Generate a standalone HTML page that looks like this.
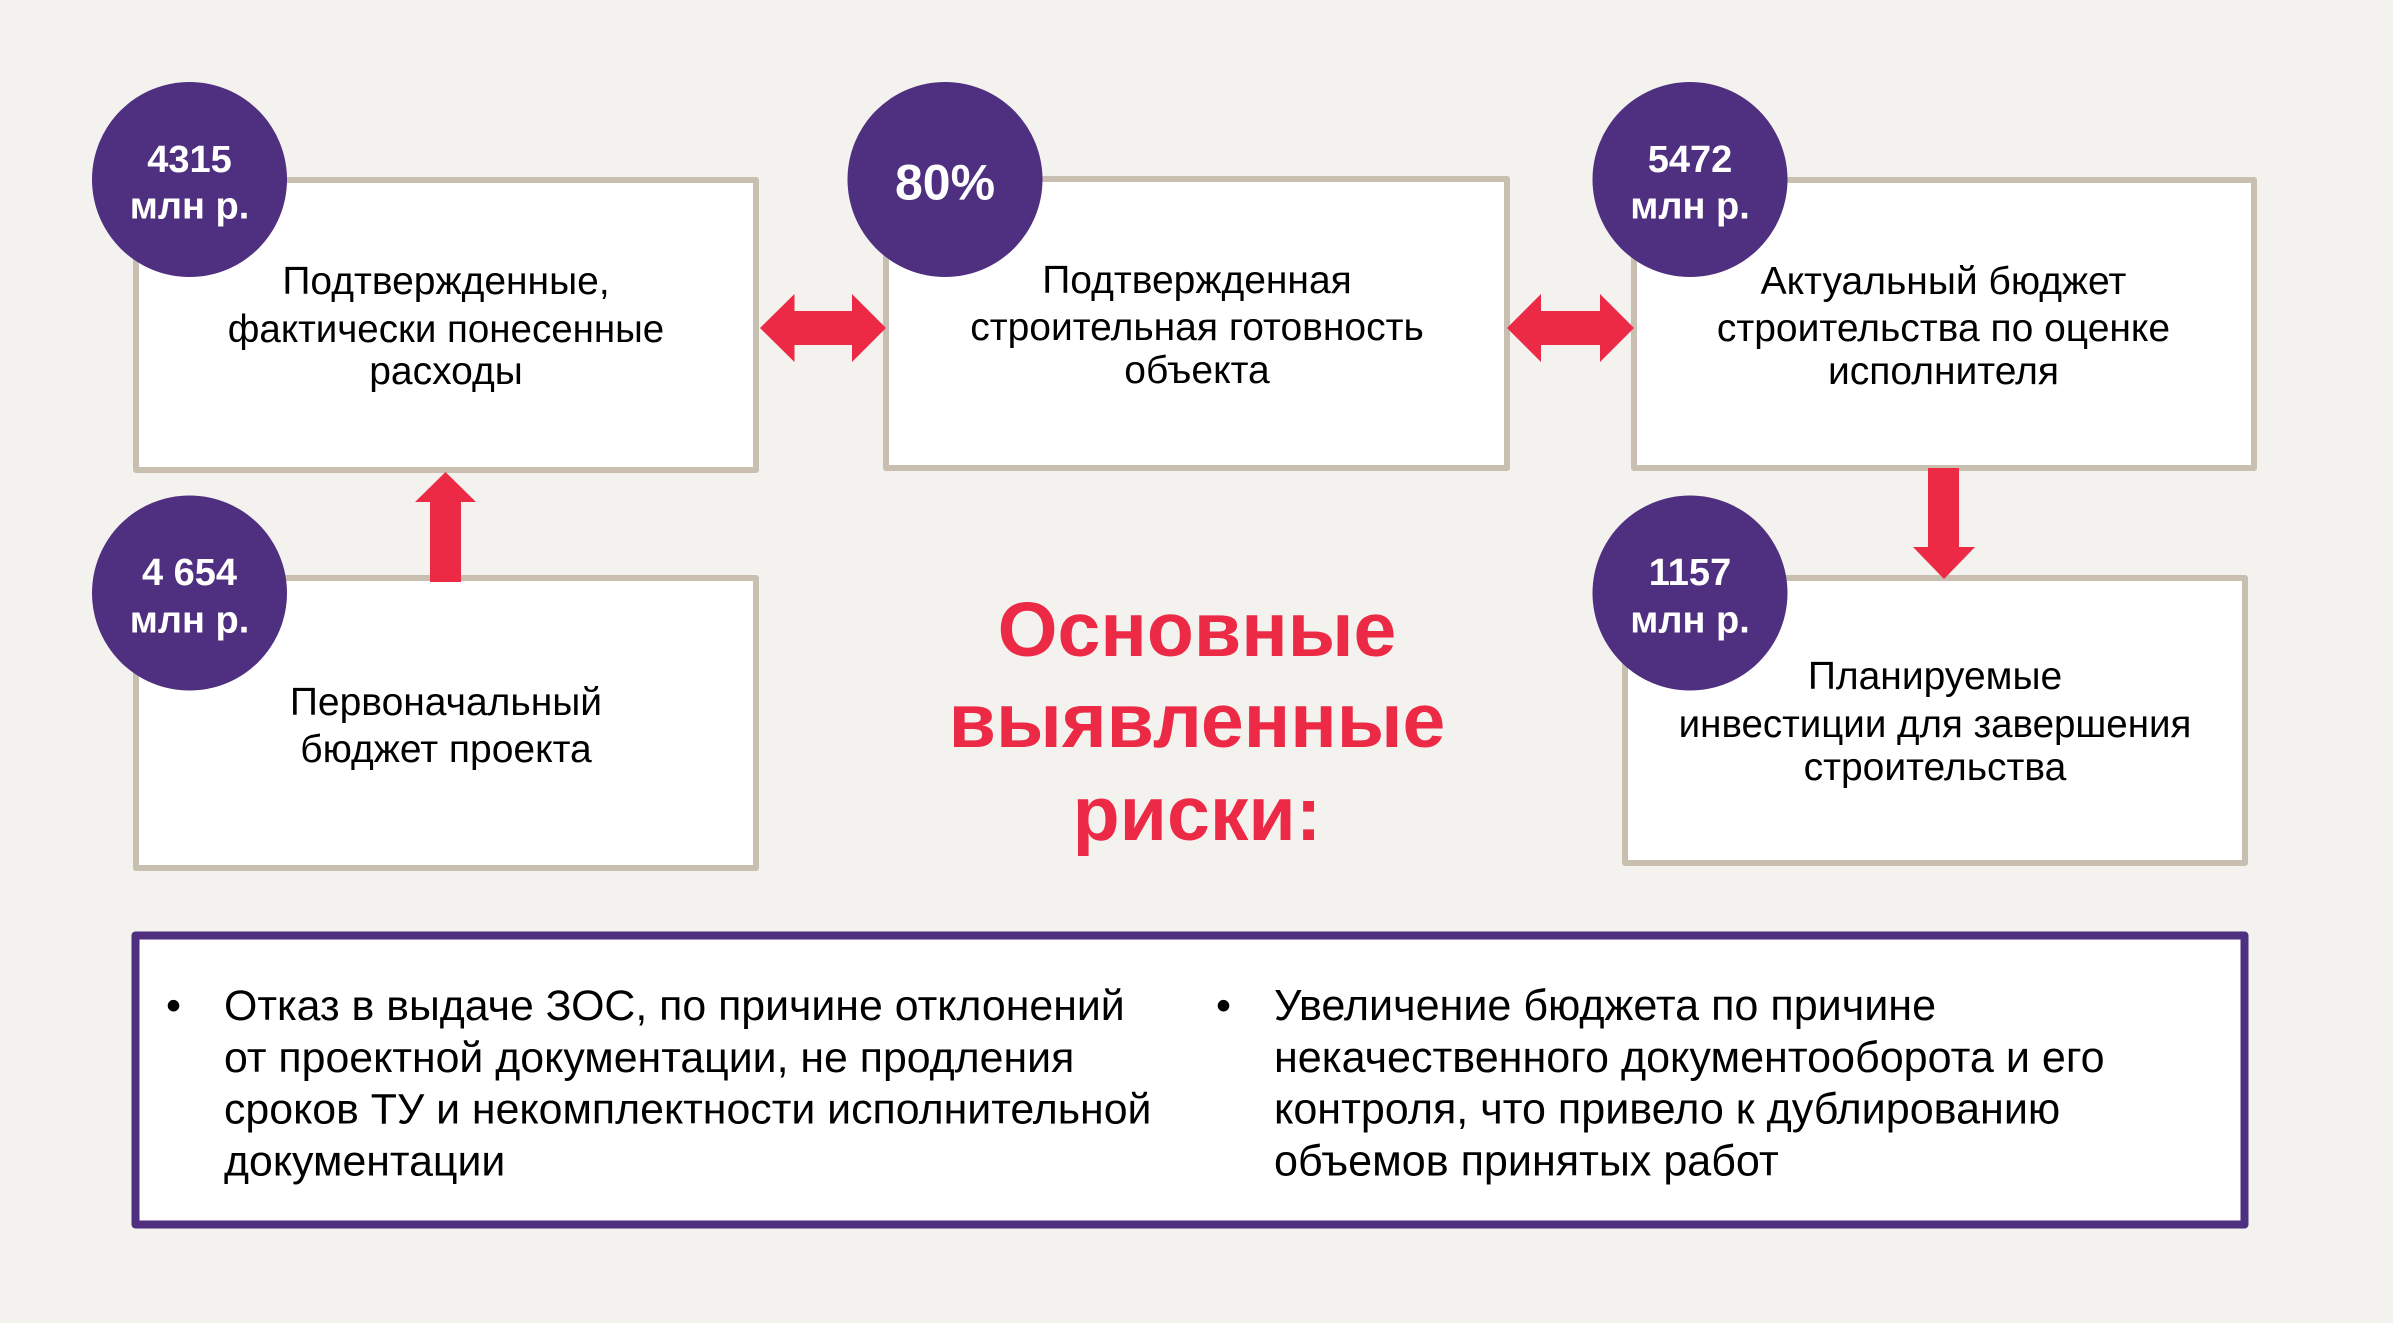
<!DOCTYPE html>
<html lang="ru"><head><meta charset="utf-8"><title>Основные выявленные риски</title>
<style>
html,body{margin:0;padding:0;background:#fff;width:2393px;height:1329px;overflow:hidden}
svg{display:block}
text{font-family:"Liberation Sans",sans-serif}
.t{font-size:39px;fill:#000;text-anchor:middle}
.n{font-size:38.5px}
.b{font-size:38px;font-weight:bold;fill:#fff;text-anchor:middle}
.h{font-size:77px;font-weight:bold;fill:#ec2a45;text-anchor:middle}
.l{font-size:42.85px;fill:#000}
.r{font-size:43.1px}
</style></head><body>
<svg xmlns="http://www.w3.org/2000/svg" width="2393" height="1329" viewBox="0 0 2393 1329">
<rect x="0" y="0" width="2393" height="1323" fill="#f3f2ee"/>
<g fill="#fff" stroke="#c9bfb0" stroke-width="6" stroke-linejoin="round">
<rect x="136" y="180" width="620" height="290"/>
<rect x="886" y="179" width="621" height="289"/>
<rect x="1634" y="180" width="620" height="288"/>
<rect x="136" y="578" width="620" height="290"/>
<rect x="1625" y="578" width="620" height="285"/>
</g>
<rect x="135.500" y="935.500" width="2109" height="289" fill="#fff" stroke="#4f2f7f" stroke-width="8" stroke-linejoin="round"/>
<g fill="#ec2a45">
<polygon points="760,328 794.500,294 794.500,311 852,311 852,294 886,328 852,362 852,345 794.500,345 794.500,362"/>
<polygon points="1507,328 1541,294 1541,311 1600,311 1600,294 1634,328 1600,362 1600,345 1541,345 1541,362"/>
<polygon points="445.500,472 476,502 461,502 461,582 430,582 430,502 415,502"/>
<polygon points="1944,579 1975,547 1959,547 1959,468 1928,468 1928,547 1913,547"/>
</g>
<g fill="#4f2f7f">
<ellipse cx="189.500" cy="179.500" rx="97.500" ry="97.500"/>
<ellipse cx="945" cy="179.500" rx="97.500" ry="97.500"/>
<ellipse cx="1690" cy="179.500" rx="97.500" ry="97.500"/>
<ellipse cx="189.500" cy="593" rx="97.500" ry="97.500"/>
<ellipse cx="1690" cy="593" rx="97.500" ry="97.500"/>
</g>
<text class="b" x="189.500" y="172">4315</text>
<text class="b" x="189.500" y="218.500">млн р.</text>
<text class="b" x="945" y="199.500" style="font-size:50px">80%</text>
<text class="b" x="1690" y="172">5472</text>
<text class="b" x="1690" y="218.500">млн р.</text>
<text class="b" x="189.500" y="585">4 654</text>
<text class="b" x="189.500" y="632.500">млн р.</text>
<text class="b" x="1690" y="585">1157</text>
<text class="b" x="1690" y="632.500">млн р.</text>

<text class="t" x="446" y="294">Подтвержденные,</text>
<text class="t n" x="446" y="342">фактически понесенные</text>
<text class="t" x="446" y="384">расходы</text>

<text class="t" x="1197" y="293">Подтвержденная</text>
<text class="t" x="1197" y="340">строительная готовность</text>
<text class="t" x="1197" y="383">объекта</text>

<text class="t" x="1943.500" y="294">Актуальный бюджет</text>
<text class="t" x="1943.500" y="341">строительства по оценке</text>
<text class="t" x="1943.500" y="384">исполнителя</text>

<text class="t" x="446" y="715">Первоначальный</text>
<text class="t" x="446" y="762">бюджет проекта</text>

<text class="t" x="1935" y="689">Планируемые</text>
<text class="t n" x="1935" y="737">инвестиции для завершения</text>
<text class="t" x="1935" y="780">строительства</text>

<text class="h" x="1197" y="656">Основные</text>
<text class="h" x="1197" y="747">выявленные</text>
<text class="h" x="1197" y="840">риски:</text>

<text class="l" x="166" y="1020">•</text>
<text class="l" x="224" y="1020">Отказ в выдаче ЗОС, по причине отклонений</text>
<text class="l" x="224" y="1072">от проектной документации, не продления</text>
<text class="l" x="224" y="1123.500">сроков ТУ и некомплектности исполнительной</text>
<text class="l" x="224" y="1175.500">документации</text>

<text class="l" x="1216" y="1020">•</text>
<text class="l r" x="1274" y="1020">Увеличение бюджета по причине</text>
<text class="l r" x="1274" y="1072">некачественного документооборота и его</text>
<text class="l r" x="1274" y="1123.500">контроля, что привело к дублированию</text>
<text class="l r" x="1274" y="1175.500">объемов принятых работ</text>
</svg>
</body></html>
